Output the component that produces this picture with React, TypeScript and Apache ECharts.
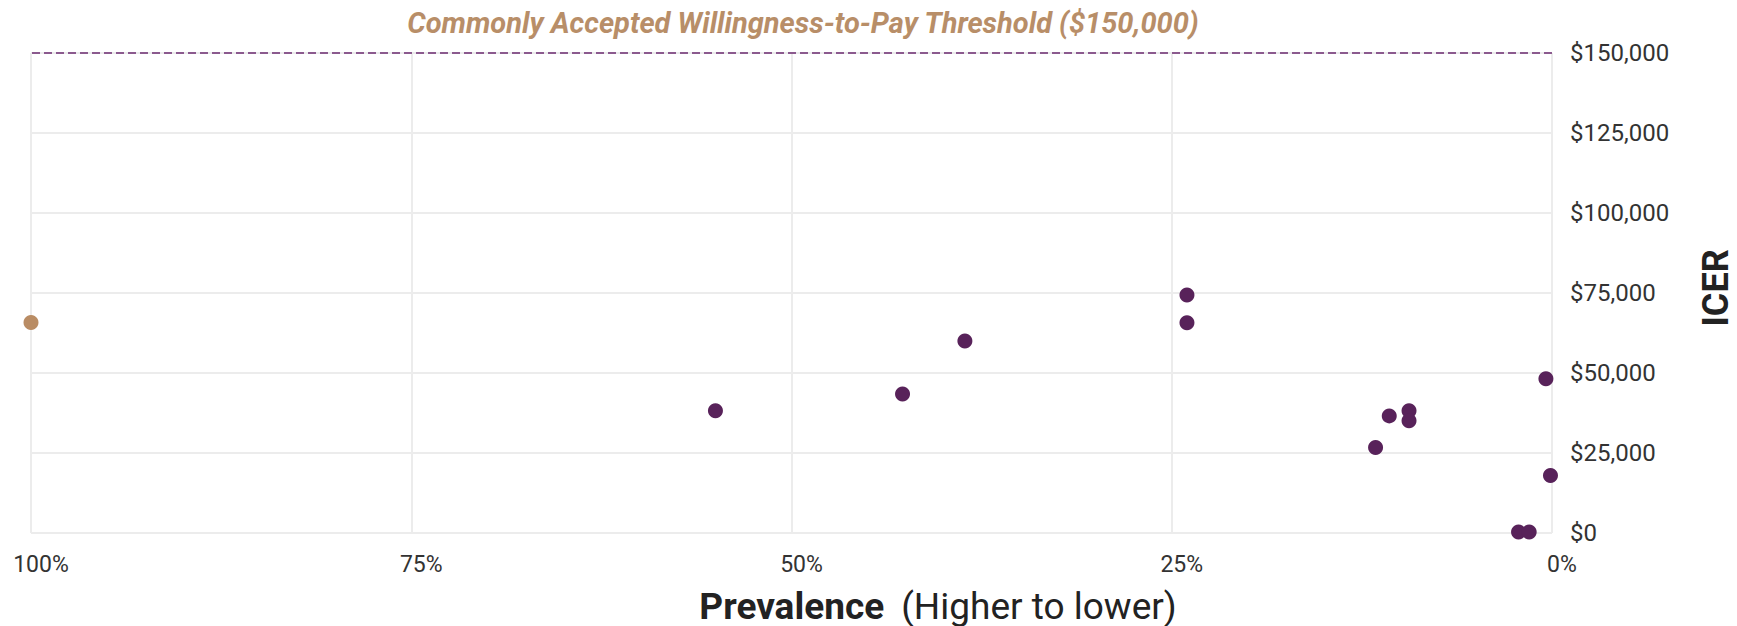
import React, { useEffect, useRef } from "react";
import * as echarts from "echarts";

const xTicks = [0, 25, 50, 75, 100];
const yTicks = [0, 25000, 50000, 75000, 100000, 125000, 150000];
const threshold = 150000;

// [prevalence %, ICER $]
const highlightPoints: [number, number][] = [[100, 65800]];
const otherPoints: [number, number][] = [
  [55.0, 38200],
  [42.7, 43400],
  [38.6, 60000],
  [24.0, 74400],
  [24.0, 65700],
  [11.6, 26700],
  [10.7, 36600],
  [9.4, 38200],
  [9.4, 35100],
  [0.4, 48200],
  [0.1, 18000],
  [2.2, 300],
  [1.5, 300],
];

const titleText = "Commonly Accepted Willingness-to-Pay Threshold ($150,000)";
const xTitleBold = "Prevalence";
const xTitleNormal = "(Higher to lower)";
const yTitle = "ICER";

const PURPLE = "#58225a";
const TAN = "#b98c64";
const FONT = "Roboto, 'Noto Sans', sans-serif";

export default function App() {
  const ref = useRef<HTMLDivElement>(null);
  useEffect(() => {
    if (!ref.current) return;
    const chart = echarts.init(ref.current, undefined, { renderer: "svg" });
    const grid = { left: 31, right: 185, top: 53, bottom: 93 };
    chart.setOption({
      animation: false,
      backgroundColor: "#ffffff",
      textStyle: { fontFamily: FONT },
      grid,
      xAxis: {
        type: "value",
        min: xTicks[0],
        max: xTicks[xTicks.length - 1],
        interval: 25,
        inverse: true,
        axisLine: { show: false },
        axisTick: { show: false },
        splitLine: { show: true, lineStyle: { color: "#ececec", width: 2 } },
        axisLabel: {
          margin: 20,
          fontSize: 23,
          color: "#333333",
          fontFamily: FONT,
          padding: [0, 0, 0, 20],
          formatter: (v: number) => `${v}%`,
        },
      },
      yAxis: {
        type: "value",
        position: "right",
        min: yTicks[0],
        max: yTicks[yTicks.length - 1],
        interval: 25000,
        axisLine: { show: false },
        axisTick: { show: false },
        splitLine: { show: true, lineStyle: { color: "#ececec", width: 2 } },
        axisLabel: {
          margin: 18,
          fontSize: 24,
          color: "#333333",
          fontFamily: FONT,
          formatter: (v: number) => "$" + v.toLocaleString("en-US"),
        },
      },
      series: [
        {
          type: "scatter",
          data: otherPoints,
          symbolSize: 15,
          itemStyle: { color: PURPLE, opacity: 1 },
          z: 3,
          markLine: {
            silent: true,
            symbol: "none",
            label: { show: false },
            lineStyle: { color: "#8b5a8e", width: 2, type: [8, 4] },
            data: [{ yAxis: threshold }],
          },
        },
        {
          type: "scatter",
          data: highlightPoints,
          symbolSize: 15,
          itemStyle: { color: TAN, opacity: 1 },
          z: 4,
        },
      ],
      graphic: [
        {
          type: "text",
          x: 803,
          y: 23,
          style: {
            text: titleText,
            font: `italic bold 29px ${FONT}`,
            fill: "#b88e68",
            align: "center",
            verticalAlign: "middle",
          },
        },
        {
          type: "text",
          x: 938,
          y: 606,
          style: {
            text: `{b|${xTitleBold}}{n|${xTitleNormal}}`,
            align: "center",
            verticalAlign: "middle",
            rich: {
              b: { fontSize: 37, lineHeight: 37, fontWeight: "bold", fontFamily: FONT, fill: "#222222", padding: [0, 17, 0, 0] },
              n: { fontSize: 37, lineHeight: 37, fontWeight: "normal", fontFamily: FONT, fill: "#222222" },
            },
          },
        },
        {
          type: "text",
          x: 1716,
          y: 288,
          rotation: Math.PI / 2,
          style: {
            text: yTitle,
            font: `bold 36px ${FONT}`,
            lineHeight: 34,
            fill: "#222222",
            align: "center",
            verticalAlign: "middle",
          },
        },
      ],
    });
    return () => chart.dispose();
  }, []);
  return (
    <div
      ref={ref}
      style={{ position: "absolute", left: 0, top: 0, width: 1737, height: 626 }}
    />
  );
}
